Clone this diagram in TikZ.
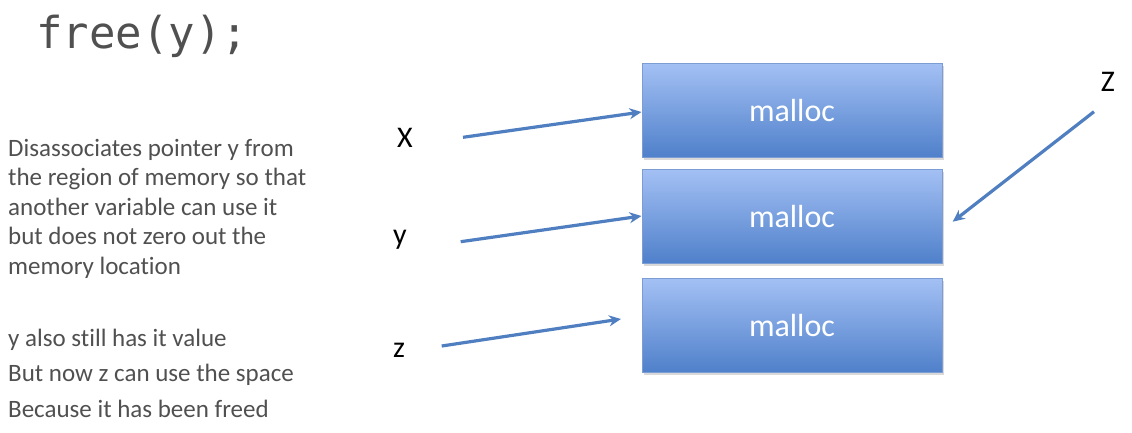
\documentclass[tikz,border=0pt]{standalone}
\usepackage{fontspec}
\setmainfont{Carlito}[Ligatures=NoCommon]
\newfontfamily\codefont{DejaVu Sans Mono}
\usetikzlibrary{arrows.meta}
\definecolor{txtgray}{HTML}{505050}
\definecolor{boxtop}{HTML}{A3C0F4}
\definecolor{boxbot}{HTML}{4F80CA}
\definecolor{boxline}{HTML}{7B9DD3}
\definecolor{arrowblue}{HTML}{4F7FC0}
\tikzset{
  membox/.style={draw=boxline, line width=1pt, top color=boxtop, bottom color=boxbot,
    minimum width=300pt, minimum height=94pt, inner sep=0pt, text=white,
    font=\fontsize{32}{34}\selectfont},
  varlabel/.style={inner sep=0pt, anchor=base, text=black, font=\fontsize{30}{32}\selectfont},
  desc/.style={inner sep=0pt, anchor=base west, text=txtgray, font=\fontsize{25}{27}\selectfont},
  ptr/.style={draw=arrowblue, line width=3.2pt, -{Stealth[length=12pt,width=11pt]}},
  shadowbox/.style={fill=black!15, draw=none, minimum width=300pt, minimum height=94pt}
}
\begin{document}
\begin{tikzpicture}[x=1pt,y=-1pt]
\useasboundingbox (0,0) rectangle (1132,432);
% title
\node[inner sep=0pt, anchor=base west, text=txtgray, font=\codefont\fontsize{44}{46}\selectfont] (title) at (36,48) {free(y);};
% description
\node[desc] (d1) at (8,156) {Disassociates pointer y from};
\node[desc] (d2) at (8,185.6) {the region of memory so that};
\node[desc] (d3) at (8,215.2) {another variable can use it};
\node[desc] (d4) at (8,244.8) {but does not zero out the};
\node[desc] (d5) at (8,274.4) {memory location};
\node[desc] (e1) at (8,346.7) {y also still has it value};
\node[desc] (e2) at (8,381.7) {But now z can use the space};
\node[desc] (e3) at (8,417) {Because it has been freed};
% shadows
\node[shadowbox] at (794,112.5) {};
\node[shadowbox] at (794,218.5) {};
\node[shadowbox] at (794,327.5) {};
% boxes
\node[membox] (m1) at (792,110.5) {malloc};
\node[membox] (m2) at (792,216.5) {malloc};
\node[membox] (m3) at (792,325.5) {malloc};
% labels
\node[varlabel] (lx) at (405,147) {X};
\node[varlabel] (ly) at (400,244) {y};
\node[varlabel] (lz) at (399,357) {z};
\node[varlabel] (lZ) at (1108,91) {Z};
% pointer tails
\coordinate (tx) at (463,137.3);
\coordinate (ty) at (460.7,241.7);
\coordinate (tz) at (441.7,346);
\coordinate (tZ) at (1094,111.7);
\coordinate (hz) at (621,319);
\coordinate (hZ) at (952.7,221.7);
% pointers
\draw[ptr] (tx) -- (m1.west |- 0,112);
\draw[ptr] (ty) -- (m2.west |- 0,216);
\draw[ptr] (tz) -- (hz);
\draw[ptr] (tZ) -- (hZ);
\end{tikzpicture}
\end{document}
